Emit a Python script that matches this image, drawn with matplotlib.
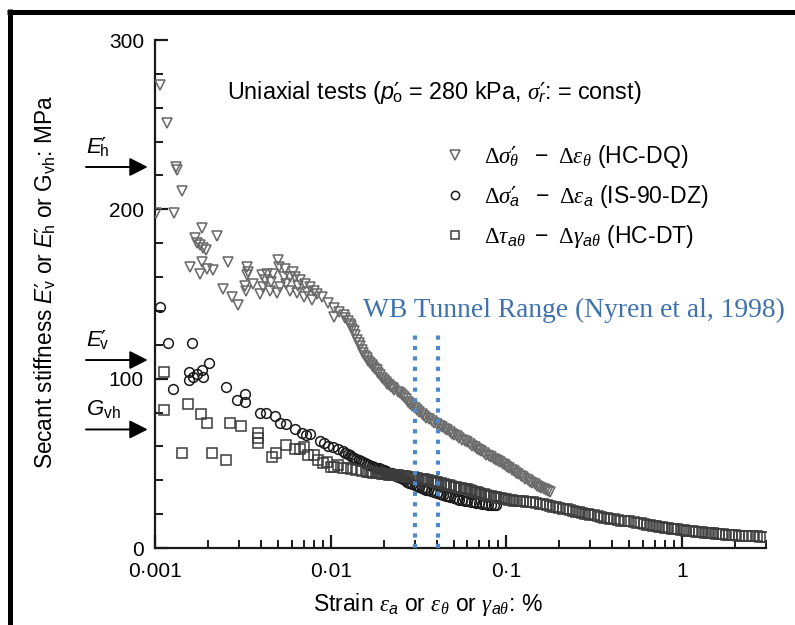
import matplotlib
matplotlib.use("Agg")
import matplotlib.pyplot as plt
from matplotlib.lines import Line2D
from matplotlib.ticker import FixedLocator, LogLocator, NullFormatter, FixedFormatter

plt.rcParams['font.family'] = ['Liberation Sans', 'DejaVu Sans']
plt.rcParams['mathtext.fontset'] = 'custom'
plt.rcParams['mathtext.rm'] = 'Liberation Sans'
plt.rcParams['mathtext.it'] = 'Liberation Sans:italic'
plt.rcParams['mathtext.cal'] = 'Liberation Serif:italic'
plt.rcParams['mathtext.sf'] = 'Liberation Serif'
plt.rcParams['mathtext.bf'] = 'DejaVu Sans'

# ---------------- data ----------------
# HC-DQ : triangles
tri_x = [0.00101, 0.00107, 0.00117, 0.00128, 0.00132, 0.00133, 0.00142, 0.00158, 0.00169, 0.00173,
         0.00180, 0.00180, 0.00184, 0.00184, 0.00188, 0.00195, 0.00197, 0.00214, 0.00226, 0.00244,
         0.00260, 0.00274, 0.00297, 0.00325, 0.00330, 0.00333, 0.00338, 0.00333, 0.00363, 0.00396,
         0.00405, 0.00414, 0.00420, 0.00432, 0.00452, 0.00460, 0.00472, 0.00494, 0.00500, 0.00505,
         0.00516, 0.00539, 0.00550, 0.00560, 0.00588, 0.00588, 0.00610, 0.00627, 0.00642, 0.00650,
         0.00670, 0.00700, 0.00715, 0.00730, 0.00763, 0.00781, 0.00800, 0.00833, 0.00891, 0.00970,
         0.0104, 0.0104, 0.0111, 0.01185,
         0.0120, 0.0125, 0.0128, 0.0130, 0.0133, 0.0136, 0.0138, 0.0141, 0.0144, 0.0147,
         0.0150, 0.0153, 0.0156, 0.0160, 0.0164, 0.0168, 0.0171, 0.0175, 0.0179, 0.0183,
         0.0186, 0.0190, 0.0195, 0.0200, 0.0205, 0.0210, 0.0215, 0.0220, 0.0225, 0.0230,
         0.0240, 0.0249, 0.0255, 0.0260, 0.0268, 0.0275, 0.0283, 0.0290, 0.0300, 0.0310,
         0.0320, 0.0330, 0.0340, 0.0350, 0.0362, 0.0375, 0.0388, 0.0402, 0.0416, 0.0430,
         0.0445, 0.0460, 0.0475, 0.0490, 0.0505, 0.0520, 0.0540, 0.0560, 0.0578, 0.0596,
         0.0618, 0.0640, 0.0660, 0.0680, 0.0700, 0.0720, 0.0745, 0.0770, 0.0795, 0.0820,
         0.0845, 0.0870, 0.0897, 0.0924, 0.0952, 0.0980, 0.1010, 0.1040, 0.1070, 0.1100,
         0.1135, 0.1170, 0.1205, 0.1240, 0.1280, 0.1320, 0.1360, 0.1400, 0.1445, 0.1490,
         0.1535, 0.1580, 0.1630, 0.1680, 0.1730, 0.1780]
tri_y = [198, 273.5, 251, 198, 225, 223, 211, 166, 183, 180.3,
         179, 162, 189, 169, 177, 176, 165, 164, 184, 153,
         169, 148, 143.5, 155, 152, 166, 163, 161, 156, 150,
         161, 154, 158, 162, 152, 157, 162, 150.4, 170, 166,
         154, 160, 165, 156, 160, 152, 163, 160, 150.4, 155,
         158, 148.4, 156, 151, 154, 146.5, 152, 150, 148.4, 144.5,
         141.6, 136.6, 139.6, 137.6,
         136, 134, 132.5, 131, 129.5, 128, 125.5, 123, 121, 119,
         117, 115, 113.5, 112, 110.5, 109, 108, 107, 106, 105,
         103.5, 102, 100.5, 99, 98, 97, 96, 95, 94.2, 93.5,
         92.4, 91.4, 90.2, 89, 87.7, 86.5, 85.2, 84, 82.8, 81.5,
         80.2, 79, 78, 77, 76, 75, 74, 73, 72.2, 71.5,
         70.5, 69.5, 68.5, 67.5, 66.8, 66, 65, 64, 63.2, 62.5,
         61.5, 60.5, 59.5, 58.5, 57.8, 57, 56, 55, 54.2, 53.5,
         52.8, 52, 51.2, 50.5, 49.8, 49, 48, 47, 46.2, 45.5,
         44.5, 43.5, 42.8, 42, 41, 40, 39.2, 38.5, 37.6, 36.8,
         36.1, 35.5, 34.7, 34, 33.5, 33]

# IS-90-DZ : circles
cir_x = [0.00107, 0.00118, 0.00162, 0.00126, 0.00157, 0.00157, 0.00165, 0.00174, 0.00184, 0.00188,
         0.00204, 0.00254, 0.00294, 0.00326, 0.00326, 0.00396, 0.00428, 0.00483, 0.00516, 0.00557,
         0.00627, 0.0069, 0.0072, 0.0076, 0.0087, 0.0092, 0.0097, 0.0103, 0.0110,
         0.0118, 0.0121, 0.0125, 0.0129, 0.0133, 0.0136, 0.0140, 0.0144, 0.0148, 0.0152,
         0.0157, 0.0161, 0.0166, 0.0171, 0.0176, 0.0182, 0.0188, 0.0194, 0.0200, 0.0205,
         0.0210, 0.0216, 0.0222, 0.0228, 0.0235, 0.0242, 0.0250, 0.0257, 0.0265, 0.0272,
         0.0280, 0.0290, 0.0302, 0.0311, 0.0320, 0.0330, 0.0340, 0.0350, 0.0360, 0.0372,
         0.0385, 0.0402, 0.0420, 0.0435, 0.0450, 0.0465, 0.0480, 0.0500, 0.0520, 0.0540,
         0.0560, 0.0580, 0.0600, 0.0625, 0.0650, 0.0675, 0.0700, 0.0730, 0.0760, 0.0790,
         0.0820, 0.0845, 0.0870]
cir_y = [142.5, 121, 121, 93.7, 104, 99.2, 100.8, 102.8, 105, 101,
         109, 95.3, 87.4, 91, 86.4, 79.5, 79.5, 78, 74, 73.2,
         70, 68, 67, 67.5, 63, 62, 60.5, 59.5, 58.5,
         57, 56.2, 55.5, 54.8, 54, 53.2, 52.5, 52, 51.5, 50.8,
         50, 49.5, 49, 48.5, 48, 47.5, 47, 46.5, 46, 45.5,
         45, 44.5, 44, 43.5, 43, 42.2, 41.5, 40.8, 40, 39.2,
         38.5, 37.8, 37, 36.5, 36, 35.5, 35, 34.5, 34, 33.5,
         33, 32.5, 32, 31.5, 31, 30.5, 30, 29.5, 29, 28.6,
         28.2, 27.8, 27.5, 27.2, 27, 26.6, 26.3, 26, 25.8, 25.6,
         25.5, 25.4, 25.4]

# HC-DT : squares
sq_x = [0.00113, 0.00113, 0.00155, 0.00182, 0.00197, 0.00142, 0.00210, 0.00254, 0.00267, 0.00308,
        0.00388, 0.00388, 0.00388, 0.00462, 0.00489, 0.00557, 0.00627, 0.00670, 0.00700, 0.00740,
        0.00800, 0.00850, 0.00900, 0.00950, 0.0100, 0.0104, 0.0110, 0.0118, 0.0123, 0.0130,
        0.0140, 0.0150,
        0.0161, 0.0165, 0.0170, 0.0175, 0.0180, 0.0185, 0.0190, 0.0195, 0.0200, 0.0205,
        0.0210, 0.0215, 0.0220, 0.0225, 0.0230, 0.0235, 0.0240, 0.0245, 0.0250, 0.0258,
        0.0265, 0.0272, 0.0280, 0.0288, 0.0295, 0.0303, 0.0310, 0.0320, 0.0330, 0.0340,
        0.0350, 0.0360, 0.0370, 0.0380, 0.0390, 0.0400, 0.0410, 0.0425, 0.0440, 0.0455,
        0.0470, 0.0485, 0.0500, 0.0518, 0.0535, 0.0552, 0.0570, 0.0583, 0.0596, 0.0618,
        0.0640, 0.0660, 0.0680, 0.0700, 0.0720, 0.0745, 0.0770, 0.0795, 0.0820, 0.0845,
        0.0870, 0.0900, 0.0930, 0.0965, 0.1000, 0.1035, 0.1070, 0.1110, 0.1150, 0.1195,
        0.1240, 0.1300, 0.1370, 0.1420,
        0.148, 0.155, 0.162, 0.170, 0.177, 0.185, 0.192, 0.200, 0.210, 0.220,
        0.230, 0.240, 0.250, 0.260, 0.270, 0.280, 0.290, 0.300, 0.315, 0.330,
        0.345, 0.360, 0.375, 0.390, 0.410, 0.430, 0.450, 0.470, 0.500, 0.533,
        0.555, 0.580, 0.605, 0.630, 0.655, 0.680, 0.710, 0.740, 0.770, 0.800,
        0.835, 0.870, 0.900, 0.930, 0.980, 1.02, 1.05, 1.10, 1.15, 1.20,
        1.25, 1.30, 1.35, 1.40, 1.45, 1.50, 1.55, 1.62, 1.70, 1.77,
        1.85, 1.92, 2.00, 2.10, 2.20, 2.30, 2.40, 2.52, 2.65, 2.78, 2.93]
sq_y = [104, 81.5, 84.9, 79, 73.6, 56, 56, 52, 73.6, 72.2,
        67.7, 64.8, 62.2, 54, 56.3, 60.8, 58.3, 58.3, 59.8, 55,
        55, 52, 50, 51, 48, 48, 49, 47, 47, 46.5,
        46, 45.5,
        45, 44.9, 44.7, 44.5, 44.3, 44.1, 44, 43.9, 43.8, 43.6,
        43.5, 43.4, 43.3, 43.2, 43.1, 43, 42.9, 42.8, 42.7, 42.5,
        42.4, 42.2, 42, 41.8, 41.7, 41.5, 41.3, 41, 40.8, 40.5,
        40.2, 39.9, 39.6, 39.3, 39, 38.8, 38.5, 38.1, 37.8, 37.4,
        37, 36.6, 36.3, 35.9, 35.6, 35.3, 35, 34.8, 34.6, 34.1,
        33.6, 33.2, 32.8, 32.4, 32, 31.6, 31.3, 30.9, 30.6, 30.3,
        30, 29.7, 29.4, 29.1, 28.8, 28.5, 28.3, 28, 27.8, 27.6,
        27.5, 27.3, 27.2, 27,
        26.5, 26, 25.7, 25.4, 25, 24.5, 24.1, 23.8, 23.3, 22.8,
        22.3, 21.8, 21.4, 21, 20.6, 20.3, 19.9, 19.6, 19.2, 18.8,
        18.4, 18, 17.6, 17.3, 16.9, 16.5, 16.2, 16, 15.7, 15.5,
        15, 14.5, 14.1, 13.8, 13.5, 13.2, 12.9, 12.6, 12.3, 12,
        11.7, 11.4, 11.2, 11, 10.6, 10.4, 10.3, 10.1, 9.9, 9.7,
        9.5, 9.3, 9.1, 8.95, 8.8, 8.65, 8.5, 8.3, 8.1, 7.9,
        7.7, 7.55, 7.4, 7.25, 7.1, 7.0, 6.9, 6.85, 6.8, 6.75, 6.7]

x_major = [0.001, 0.01, 0.1, 1]
x_major_labels = ['0\u00b7001', '0\u00b701', '0\u00b71', '1']
y_major = [0, 100, 200, 300]

tunnel_range = [0.030, 0.041]
tunnel_top = 127

P = "\\mathbf{\u2032}\\!\\!{}"
arrow_levels = [225, 111, 70]
arrow_labels = [r"$E" + P + r"_{\mathrm{h}}$", r"$E" + P + r"_{\mathrm{v}}$", r"$G_{\mathrm{vh}}$"]

lab_tri = (r"$\mathsf{\Delta}\mathcal{\sigma}" + P + r"_{\mathcal{\theta}}\ \ -\ \mathsf{\Delta}"
           r"\mathcal{\varepsilon}_{\mathcal{\theta}}$ (HC-DQ)")
lab_cir = (r"$\mathsf{\Delta}\mathcal{\sigma}" + P + r"_{a}\ \ -\ \mathsf{\Delta}"
           r"\mathcal{\varepsilon}_{a}$ (IS-90-DZ)")
lab_sq = (r"$\mathsf{\Delta}\mathcal{\tau}_{a\mathcal{\theta}}\ -\ \mathsf{\Delta}"
          r"\mathcal{\gamma}_{a\mathcal{\theta}}$ (HC-DT)")

# ---------------- figure ----------------
W, H = 795, 625
fig = plt.figure(figsize=(W / 100, H / 100), dpi=100)
ax = fig.add_axes([155 / W, 1 - 548 / H, (766 - 155) / W, (548 - 40) / H])

ax.plot(cir_x, cir_y, linestyle='none', marker='o', ms=7.0, mfc='none', mec='#1a1a1a', mew=1.1,
        label=lab_cir, zorder=3)
ax.plot(sq_x, sq_y, linestyle='none', marker='s', ms=6.8, mfc='none', mec='#3c3c3c', mew=1.1,
        label=lab_sq, zorder=3)
ax.plot(tri_x, tri_y, linestyle='none', marker='v', ms=7.8, mfc='none', mec='#6a6a6a', mew=1.15,
        label=lab_tri, zorder=4)

for xv in tunnel_range:
    ax.plot([xv, xv], [0, tunnel_top], color='#4f88c6', lw=3.0, linestyle=(0, (1, 1.5)),
            dash_capstyle='butt', zorder=5, clip_on=False)

ax.set_xscale('log')
ax.set_xlim(0.001, 3)
ax.set_ylim(0, 300)

for s in ['top', 'right']:
    ax.spines[s].set_visible(False)
for s in ['left', 'bottom']:
    ax.spines[s].set_linewidth(1.6)
    ax.spines[s].set_color('#1a1a1a')

ax.xaxis.set_major_locator(FixedLocator(x_major))
ax.xaxis.set_major_formatter(FixedFormatter(x_major_labels))
ax.xaxis.set_minor_locator(LogLocator(base=10, subs=[2, 3, 4, 5, 6, 7, 8, 9], numticks=20))
ax.xaxis.set_minor_formatter(NullFormatter())
ax.yaxis.set_major_locator(FixedLocator(y_major))
ax.yaxis.set_minor_locator(FixedLocator(list(range(0, 301, 20))))

ax.tick_params(which='major', direction='in', length=9.5, width=1.6, color='#1a1a1a', labelsize=15)
ax.tick_params(which='minor', direction='in', length=5.5, width=1.4, color='#1a1a1a')
ax.tick_params(axis='y', which='major', pad=8)
ax.tick_params(axis='x', which='major', pad=10)

# arrows at the left
for lvl, lab in zip(arrow_levels, arrow_labels):
    ax.annotate('', xy=(-0.012, lvl), xytext=(-0.113, lvl), xycoords=ax.get_yaxis_transform(),
                arrowprops=dict(arrowstyle='-|>,head_length=0.55,head_width=0.28', lw=1.4,
                                color='black', mutation_scale=20, shrinkA=0, shrinkB=0),
                annotation_clip=False)
    ax.annotate(lab, xy=(-0.113, lvl), xycoords=ax.get_yaxis_transform(),
                xytext=(0, 14), textcoords='offset points', ha='left', va='center',
                fontsize=16, annotation_clip=False)

# texts
fig.text(227 / W, 1 - 93 / H,
         r"Uniaxial tests ($p" + P + r"_{\mathrm{o}}$ = 280 kPa, $\mathcal{\sigma}" + P + r"_{r}$: = const)",
         ha='left', va='center', fontsize=16.8)
fig.text(363 / W, 1 - 317 / H, "WB Tunnel Range (Nyren et al, 1998)", ha='left', va='baseline',
         fontsize=19.8, color='#3f72ad', family=['Liberation Serif', 'DejaVu Serif'])
fig.text(45 / W, 1 - 282 / H,
         r"Secant stiffness $E" + P + r"_{\mathrm{v}}$ or $E" + P + r"_{\mathrm{h}}$ or G$_{\mathrm{vh}}$: MPa",
         rotation=90, ha='center', va='center', fontsize=16.3)
fig.text(428 / W, 1 - 604 / H,
         r"Strain $\mathcal{\varepsilon}_{a}$ or $\mathcal{\varepsilon}_{\mathcal{\theta}}$ or $\mathcal{\gamma}_{a\mathcal{\theta}}$: %",
         ha='center', va='center', fontsize=16.5)

handles, labels = ax.get_legend_handles_labels()
order = [2, 0, 1]
leg = ax.legend([handles[i] for i in order], [labels[i] for i in order],
                loc='upper left', bbox_to_anchor=(443 / W, 1 - 143 / H), bbox_transform=fig.transFigure,
                frameon=False, fontsize=16.6, handlelength=1.0, handletextpad=0.8, labelspacing=0.56,
                borderpad=0, borderaxespad=0, markerscale=0.85)

# frame lines of the original image
fig.add_artist(Line2D([7 / W, 1], [1 - 11.5 / H, 1 - 11.5 / H], lw=3.6, color='black',
                      transform=fig.transFigure, solid_capstyle='butt'))
fig.add_artist(Line2D([9.5 / W, 9.5 / W], [0, 1 - 9 / H], lw=3.6, color='black',
                      transform=fig.transFigure, solid_capstyle='butt'))

fig.savefig('out.png', dpi=100)
